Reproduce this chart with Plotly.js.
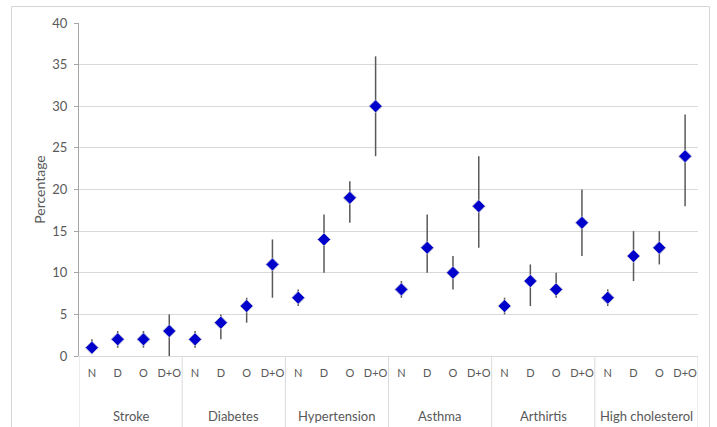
<!DOCTYPE html>
<html>
<head>
<meta charset="utf-8">
<script src="https://cdn.plot.ly/plotly-3.0.1.min.js"></script>
<style>html,body{margin:0;padding:0;background:#fff;}#chart{width:717px;height:427px;}</style>
</head>
<body>
<div id="chart"></div>
<script>
const groups = ["Stroke", "Diabetes", "Hypertension", "Asthma", "Arthirtis", "High cholesterol"];
const subgroups = ["N", "D", "O", "D+O"];
const values = [
  1, 2, 2, 3,
  2, 4, 6, 11,
  7, 14, 19, 30,
  8, 13, 10, 18,
  6, 9, 8, 16,
  7, 12, 13, 24
];
const upper = [
  2, 3, 3, 5,
  3, 5, 7, 14,
  8, 17, 21, 36,
  9, 17, 12, 24,
  7, 11, 10, 20,
  8, 15, 15, 29
];
const lower = [
  0.5, 1, 1, 0,
  1, 2, 4, 7,
  6, 10, 16, 24,
  7, 10, 8, 13,
  5, 6, 7, 12,
  6, 9, 11, 18
];

const xs = [], tickText = [];
groups.forEach((g, gi) => subgroups.forEach((s, si) => { xs.push(gi * subgroups.length + si); tickText.push(s); }));

const trace = {
  x: xs, y: values, type: 'scatter', mode: 'markers',
  marker: {symbol: 'diamond', size: 10, color: '#0000CC', line: {color: 'rgba(190,190,210,0.9)', width: 1}},
  error_y: {type: 'data', symmetric: false,
    array: values.map((v, i) => upper[i] - v),
    arrayminus: values.map((v, i) => v - lower[i]),
    color: '#595959', thickness: 1.5, width: 0},
  hoverinfo: 'skip', showlegend: false, cliponaxis: false
};

const n = subgroups.length;
const shapes = [];
for (let gi = 0; gi <= groups.length; gi++) {
  shapes.push({type: 'line', xref: 'x', yref: 'paper', x0: gi * n - 0.5, x1: gi * n - 0.5, y0: 0, y1: -0.22,
    line: {color: '#D9D9D9', width: 1}, layer: 'below'});
}
// outer chart frame (left, top, right edges)
shapes.push({type: 'path', xref: 'paper', yref: 'paper',
  path: 'M -0.1091 -0.25 L -0.1091 1.0495 L 1.0186 1.0495 L 1.0186 -0.25',
  line: {color: '#D6D6D6', width: 1}, layer: 'above'});

const annotations = groups.map((g, gi) => ({
  text: g, xref: 'x', yref: 'paper', x: gi * n + (n - 1) / 2, y: -0.18, yanchor: 'middle',
  showarrow: false, font: {family: 'Lato, sans-serif', size: 13, color: '#595959'}
}));

const layout = {
  width: 717, height: 427,
  margin: {l: 79, r: 19, t: 23, b: 71},
  paper_bgcolor: '#fff', plot_bgcolor: '#fff',
  font: {family: 'Lato, sans-serif', color: '#595959'},
  xaxis: {
    range: [-0.5, xs.length - 0.5], tickmode: 'array', tickvals: xs, ticktext: tickText,
    showgrid: false, zeroline: false, showline: true, linecolor: '#D9D9D9', linewidth: 1,
    ticks: '', tickfont: {size: 11, color: '#595959'}, ticklabelstandoff: 7, fixedrange: true
  },
  yaxis: {
    range: [0, 40], dtick: 5, tick0: 0, showgrid: true, gridcolor: '#D9D9D9', gridwidth: 1,
    zeroline: false, showline: true, linecolor: '#A6A6A6', linewidth: 1,
    ticks: 'outside', ticklen: 4, tickcolor: '#A6A6A6', tickfont: {size: 13, color: '#595959'},
    ticklabelstandoff: 4,
    title: {text: 'Percentage', font: {size: 14, color: '#595959'}, standoff: 3}
  },
  shapes: shapes, annotations: annotations
};

Plotly.newPlot('chart', [trace], layout, {staticPlot: true, displayModeBar: false});
</script>
</body>
</html>
